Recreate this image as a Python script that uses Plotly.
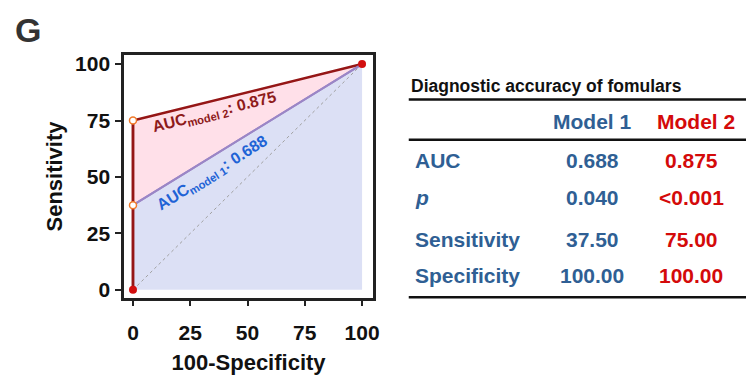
import plotly.graph_objects as go

# ---------------- data ----------------
fpr_model1 = [0, 0, 100]
tpr_model1 = [0, 37.5, 100]
fpr_model2 = [0, 0, 100]
tpr_model2 = [0, 75, 100]
ref_x = [0, 100]
ref_y = [0, 100]
auc_model1 = 0.688
auc_model2 = 0.875

tick_vals = [0, 25, 50, 75, 100]

table_title = "Diagnostic accuracy of fomulars"
table_cols = ["Model 1", "Model 2"]
table_rows = ["AUC", "<i>p</i>", "Sensitivity", "Specificity"]
model1_vals = ["0.688", "0.040", "37.50", "100.00"]
model2_vals = ["0.875", "<0.001", "75.00", "100.00"]

# ---------------- styles ----------------
FONT = "Arial, Liberation Sans, sans-serif"
RED_DARK = "#951616"
PURPLE = "#9b86c6"
FILL1 = "rgba(214,219,243,0.85)"
FILL2 = "rgba(255,222,232,0.95)"
BLUE_TXT = "#2f5f94"
RED_TXT = "#d40a0a"
ANN_BLUE = "#1f63d6"
ANN_RED = "#8e1a1a"

W, H = 746, 367      # page body has an 8px margin
OFF = 8


def px(x):
    return (x - OFF) / W


def py(y):
    return 1 - (y - OFF) / H


fig = go.Figure()

# model 1 area (lavender)
fig.add_trace(go.Scatter(x=fpr_model1, y=tpr_model1, mode="lines",
                         line=dict(color=PURPLE, width=2),
                         fill="tozeroy", fillcolor=FILL1, showlegend=False,
                         hoverinfo="skip"))
# model 2 area (pink between model2 and model1)
fig.add_trace(go.Scatter(x=fpr_model2, y=tpr_model2, mode="lines",
                         line=dict(color=RED_DARK, width=2.5),
                         fill="tonexty", fillcolor=FILL2, showlegend=False,
                         hoverinfo="skip"))
# redraw model 1 line on top of fill
fig.add_trace(go.Scatter(x=fpr_model1[1:], y=tpr_model1[1:], mode="lines",
                         line=dict(color=PURPLE, width=2), showlegend=False,
                         hoverinfo="skip"))
# reference diagonal
fig.add_trace(go.Scatter(x=ref_x, y=ref_y, mode="lines",
                         line=dict(color="#a0a0a0", width=1, dash="dot"),
                         showlegend=False, hoverinfo="skip"))
# vertical segment of model 2
fig.add_trace(go.Scatter(x=fpr_model2[:2], y=tpr_model2[:2], mode="lines",
                         line=dict(color=RED_DARK, width=2.5),
                         showlegend=False, hoverinfo="skip"))
# markers model 1
fig.add_trace(go.Scatter(x=fpr_model1, y=tpr_model1, mode="markers",
                         marker=dict(symbol="triangle-up", size=6, color="#3a56e0"),
                         showlegend=False, hoverinfo="skip"))
# markers model 2 end points
fig.add_trace(go.Scatter(x=[fpr_model2[0], fpr_model2[2]], y=[tpr_model2[0], tpr_model2[2]],
                         mode="markers",
                         marker=dict(symbol="circle", size=8, color="#d20f0f"),
                         showlegend=False, hoverinfo="skip"))
# open circles at cut points
fig.add_trace(go.Scatter(x=[fpr_model2[1], fpr_model1[1]], y=[tpr_model2[1], tpr_model1[1]],
                         mode="markers",
                         marker=dict(symbol="circle", size=7, color="white",
                                     line=dict(color="#f07a2a", width=1.5)),
                         showlegend=False, hoverinfo="skip"))

axis_common = dict(showline=True, linecolor="#222222", linewidth=2.5, mirror=True,
                   ticks="outside", ticklen=6, tickwidth=2, tickcolor="#222222",
                   showgrid=False, zeroline=False,
                   tickvals=tick_vals,
                   tickfont=dict(family=FONT, size=21, color="#111111", weight="bold"))

fig.update_layout(
    width=W, height=H,
    margin=dict(l=0, r=0, t=0, b=0),
    paper_bgcolor="white", plot_bgcolor="white",
    font=dict(family=FONT),
    xaxis=dict(domain=[px(125), px(376)], range=[-3.9, 104.8],
               ticklabelstandoff=8,
               title=dict(text="100-Specificity", standoff=14,
                          font=dict(family=FONT, size=22, color="#111111", weight="bold")),
               **axis_common),
    yaxis=dict(domain=[py(299.5), py(53)], range=[-3.5, 103.9],
               ticklabelstandoff=1,
               title=dict(text="Sensitivity", standoff=7,
                          font=dict(family=FONT, size=22, color="#111111", weight="bold")),
               **axis_common),
)

annotations = []
# panel letter
annotations.append(dict(x=px(28), y=py(27), xref="paper", yref="paper",
                        text="G", showarrow=False, xanchor="center", yanchor="middle",
                        font=dict(family=FONT, size=34, color="#333333", weight="bold")))
# AUC labels on the curves
annotations.append(dict(x=px(216), y=py(111), xref="paper", yref="paper",
                        text=f"AUC<sub>model 2</sub>: {auc_model2:.3f}", showarrow=False,
                        textangle=-14, xanchor="center", yanchor="middle",
                        font=dict(family=FONT, size=16, color=ANN_RED, weight="bold")))
annotations.append(dict(x=px(214), y=py(173), xref="paper", yref="paper",
                        text=f"AUC<sub>model 1</sub>: {auc_model1:.3f}", showarrow=False,
                        textangle=-32, xanchor="center", yanchor="middle",
                        font=dict(family=FONT, size=16, color=ANN_BLUE, weight="bold")))

# table
annotations.append(dict(x=px(412), y=py(84), xref="paper", yref="paper",
                        text=table_title, showarrow=False, xanchor="left", yanchor="middle",
                        font=dict(family=FONT, size=17.5, color="#111111", weight="bold")))
head_x = [px(597), px(702)]
col_x = [px(597), px(697)]
col_colors = [BLUE_TXT, RED_TXT]
for cx, name, colr in zip(head_x, table_cols, col_colors):
    annotations.append(dict(x=cx, y=py(120), xref="paper", yref="paper",
                            text=name, showarrow=False, xanchor="center", yanchor="middle",
                            font=dict(family=FONT, size=21, color=colr, weight="bold")))
row_y = [160, 198, 240, 277]
for ry, lab, v1, v2 in zip(row_y, table_rows, model1_vals, model2_vals):
    annotations.append(dict(x=px(416), y=py(ry), xref="paper", yref="paper",
                            text=lab, showarrow=False, xanchor="left", yanchor="middle",
                            font=dict(family=FONT, size=21, color=BLUE_TXT, weight="bold")))
    annotations.append(dict(x=col_x[0], y=py(ry), xref="paper", yref="paper",
                            text=v1, showarrow=False, xanchor="center", yanchor="middle",
                            font=dict(family=FONT, size=21, color=BLUE_TXT, weight="bold")))
    annotations.append(dict(x=col_x[1], y=py(ry), xref="paper", yref="paper",
                            text=v2.replace("<", "&lt;"), showarrow=False, xanchor="center", yanchor="middle",
                            font=dict(family=FONT, size=21, color=RED_TXT, weight="bold")))

shapes = []
for ly in [98, 139, 299]:
    shapes.append(dict(type="line", xref="paper", yref="paper",
                       x0=px(412), x1=1.0, y0=py(ly), y1=py(ly),
                       line=dict(color="#111111", width=2.5)))

fig.update_layout(annotations=annotations, shapes=shapes)

fig.write_html("out.html")
